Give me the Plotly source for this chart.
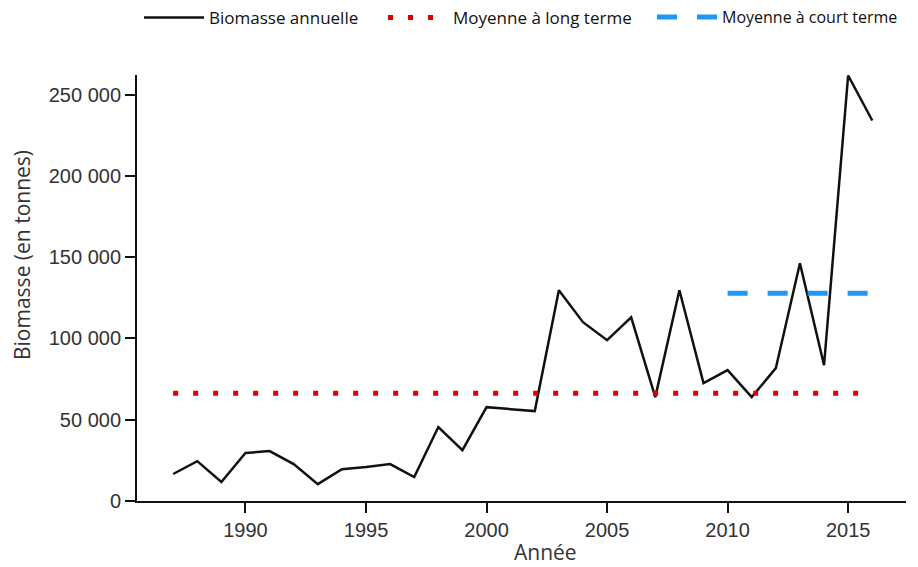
import plotly.graph_objects as go

years = list(range(1987, 2017))
biomass = [16600, 24500, 11700, 29500, 30700, 22700, 10400, 19600, 20900, 22700,
           14700, 45500, 31300, 57700, 56500, 55300, 129600, 110000, 98900, 113000,
           63900, 129600, 72500, 80500, 63900, 81700, 146200, 83500, 261700, 234000]
long_term_years = [1987, 2016]
long_term_mean = [66300, 66300]
short_term_years = [2010, 2016]
short_term_mean = [127800, 127800]

W, H = 918, 567
legend_font = dict(family="Open Sans, Liberation Sans, sans-serif", size=17, color="#111")

fig = go.Figure()
fig.add_trace(go.Scatter(x=years, y=biomass, mode="lines", name="Biomasse annuelle",
                         line=dict(color="#111111", width=2.5), legend="legend", showlegend=True))
fig.add_trace(go.Scatter(x=long_term_years, y=long_term_mean, mode="lines",
                         name="Moyenne à long terme", showlegend=True,
                         line=dict(color="#e00000", width=5, dash="5px,15px"), legend="legend2"))
fig.add_trace(go.Scatter(x=short_term_years, y=short_term_mean, mode="lines",
                         name="Moyenne à court terme", showlegend=True,
                         line=dict(color="#2196f3", width=5, dash="20px,20px"), legend="legend3"))

common_leg = dict(orientation="h", xref="container", yref="container", y=1,
                  yanchor="top", xanchor="left", font=legend_font, itemwidth=60,
                  bgcolor="rgba(0,0,0,0)")

tickfont = dict(family="Liberation Sans, Arial, sans-serif", size=20, color="#333")
titlefont = dict(family="Open Sans, sans-serif", size=21, color="#333")

fig.update_layout(
    width=W, height=H,
    margin=dict(l=137, r=12, t=75, b=66),
    paper_bgcolor="white", plot_bgcolor="white",
    separators=", ",
    showlegend=True,
    legend=dict(common_leg, x=139 / W),
    legend2=dict(common_leg, x=383 / W),
    legend3=dict(common_leg, x=652 / W, font=dict(legend_font, size=16)),
    xaxis=dict(range=[1985.5, 2017.4], tickvals=[1990, 1995, 2000, 2005, 2010, 2015],
               showgrid=False, zeroline=False, showline=True, linecolor="#111", linewidth=2,
               ticks="outside", ticklen=10, tickwidth=2, tickcolor="#111",
               tickfont=tickfont),
    yaxis=dict(range=[0, 262000], tickvals=[0, 50000, 100000, 150000, 200000, 250000],
               tickformat=",d",
               showgrid=False, zeroline=False, showline=True, linecolor="#111", linewidth=2,
               ticks="outside", ticklen=10, tickwidth=2, tickcolor="#111",
               tickfont=tickfont),
    annotations=[
        dict(text="Année", xref="paper", yref="paper", x=(545 - 137) / 769, y=-51 / 426,
             xanchor="center", yanchor="middle", showarrow=False, font=titlefont),
        dict(text="Biomasse (en tonnes)", xref="paper", yref="paper", x=(22 - 137) / 769,
             y=(501 - 255) / 426, xanchor="center", yanchor="middle", textangle=-90,
             showarrow=False, font=titlefont),
    ],
)

fig.write_html("out.html", config={"displayModeBar": False},
               post_script="document.body.style.margin='0';")
